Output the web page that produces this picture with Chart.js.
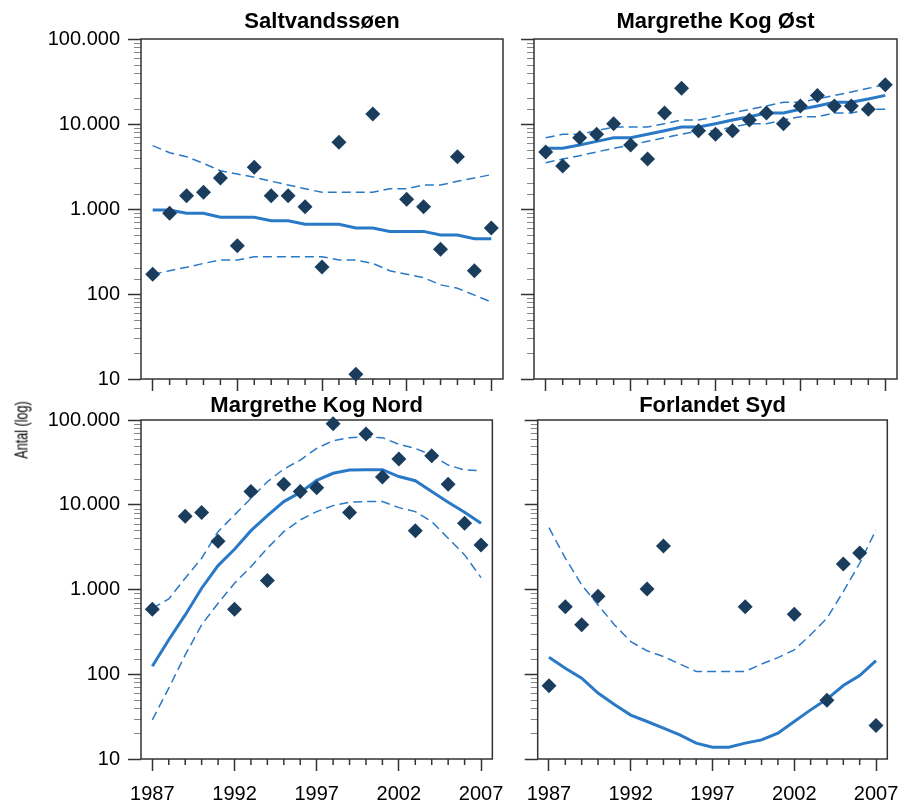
<!DOCTYPE html>
<html>
<head>
<meta charset="utf-8">
<script src="https://cdn.jsdelivr.net/npm/chart.js@4"></script>
<style>
  body { margin: 0; background: #fff; }
  #wrap { position: relative; width: 910px; height: 802px; overflow: hidden; }
  canvas { position: absolute; }
  #ytitle {
    position: absolute; left: 22px; top: 430px;
    transform: translate(-50%, -50%) rotate(-90deg) scaleX(0.7);
    font: 18px 'Liberation Sans', Arial, sans-serif; white-space: nowrap; color: #000;
  }
</style>
</head>
<body>
<div id="wrap">
  <canvas id="c1" width="515" height="400" style="left:0;top:0"></canvas>
  <canvas id="c2" width="395" height="400" style="left:515px;top:0"></canvas>
  <canvas id="c3" width="515" height="422" style="left:0;top:380px"></canvas>
  <canvas id="c4" width="395" height="422" style="left:515px;top:380px"></canvas>
  <div id="ytitle">Antal (log)</div>
</div>
<script>
const YEARS = [1987, 1988, 1989, 1990, 1991, 1992, 1993, 1994, 1995, 1996, 1997,
               1998, 1999, 2000, 2001, 2002, 2003, 2004, 2005, 2006, 2007];
const X_LABEL_YEARS = [1987, 1992, 1997, 2002, 2007];
const Y_TICKS = [10, 100, 1000, 10000, 100000];

// Saltvandssøen
const SALT_OBS = [171, 890, 1430, 1570, 2320, 370, 3090, 1430, 1430, 1060, 208,
                  6100, 11.4, 13100, null, 1300, 1060, 336, 4120, 188, 597];
const SALT_FIT = [973, 973, 890, 890, 798, 798, 798, 729, 729, 661, 661,
                  661, 597, 597, 545, 545, 545, 494, 494, 448, 448];
const SALT_HI = [5560, 4600, 4120, 3440, 2820, 2580, 2360, 2120, 1915, 1733, 1570,
                 1570, 1570, 1570, 1733, 1733, 1915, 1915, 2120, 2316, 2535];
const SALT_LO = [171, 188, 206, 229, 251, 251, 275, 275, 275, 275, 275,
                 251, 251, 229, 188, 171, 156, 128, 117, 97, 80.5];

// Margrethe Kog Øst
const OST_OBS = [4690, 3210, 6900, 7560, 10090, 5660, 3870, 13460, 26300, 8340, 7560,
                 8340, 11140, 13460, 10090, 16300, 21700, 16300, 16300, 14900, 29000];
const OST_FIT = [5180, 5180, 5660, 6250, 6900, 6900, 7560, 8340, 9220, 9220, 10090,
                 11140, 12200, 13460, 13460, 14900, 16300, 18000, 18000, 19700, 21700];
const OST_HI = [6900, 7560, 7560, 8340, 9200, 9200, 9200, 10090, 11140, 11140, 12200,
                13460, 14900, 16300, 18000, 18000, 19700, 21700, 23800, 26300, 29000];
const OST_LO = [3510, 3870, 4240, 4690, 5180, 5660, 6250, 6900, 7560, 8340, 8340,
                9200, 10090, 10090, 11140, 12200, 12200, 13460, 13460, 14900, 14900];

// Margrethe Kog Nord
const NORD_OBS = [586, null, 7310, 8080, 3710, 586, 14300, 1273, 17500, 14300, 15900,
                  90500, 8080, 68400, 21300, 34700, 4950, 37900, 17500, 6050, 3360];
const NORD_FIT = [124, 255, 501, 1035, 1915, 2990, 4950, 7450, 10900, 14000, 19400,
                  23500, 25700, 25900, 25900, 21500, 19200, 14300, 10700, 8170, 6050];
const NORD_HI = [600, 774, 1360, 2340, 4820, 7590, 11900, 18700, 26400, 33700, 46300,
                 57000, 61900, 63100, 61900, 51600, 46300, 38600, 29400, 25700, 25300];
const NORD_LO = [29, 68.5, 169, 383, 689, 1185, 1860, 3070, 4820, 6620, 8300,
                 9770, 10700, 10900, 10900, 9250, 8300, 6320, 4030, 2560, 1380];

// Forlandet Syd (lower band is below the axis)
const FORL_OBS = [73, 624, 383, 834, null, null, 1016, 3270, null, null, null,
                  null, 624, null, null, 512, null, 49.5, 2000, 2700, 24.8];
const FORL_FIT = [159, 118, 90, 60, 44, 33, 27.7, 23.1, 19.3, 15.4, 13.8,
                  13.8, 15.4, 16.8, 20.2, 27.7, 38, 51, 73.6, 96.6, 145];
const FORL_HI = [5370, 2340, 1133, 658, 383, 243, 189, 162, 132, 108, 108,
                 108, 108, 132, 157, 194, 292, 459, 944, 2040, 5050];

const DIAMOND = '#1b3d5d';
const LINE = '#2a79c6';
const FRAME = '#333333';
const FONT = "'Liberation Sans', Arial, Helvetica, sans-serif";

Chart.defaults.font.family = FONT;
Chart.defaults.color = '#000';

function fmt(v) {
    return String(v).replace(/\B(?=(\d{3})+(?!\d))/g, '.');
}

function isDecade(v) {
    const l = Math.log10(v);
    return Math.abs(l - Math.round(l)) < 1e-9;
}

function isMajorYear(v) {
    return X_LABEL_YEARS.includes(v);
}

function pts(arr) {
    return YEARS.map((x, i) => ({ x: x, y: arr[i] }));
}

// full box round the plot + the short minor ticks
const framePlugin = {
    id: 'frame',
    beforeDatasetsDraw(chart) {
        const ctx = chart.ctx;
        const a = chart.chartArea;
        ctx.save();
        ctx.strokeStyle = '#888';
        ctx.lineWidth = 1;
        chart.scales.y.ticks.forEach(t => {
            if (isDecade(t.value)) return;
            const py = Math.round(chart.scales.y.getPixelForValue(t.value)) + 0.5;
            ctx.beginPath();
            ctx.moveTo(a.left - 7, py);
            ctx.lineTo(a.left, py);
            ctx.stroke();
        });
        ctx.strokeStyle = FRAME;
        ctx.lineWidth = 1.5;
        chart.scales.x.ticks.forEach(t => {
            if (isMajorYear(t.value)) return;
            const px = chart.scales.x.getPixelForValue(t.value);
            ctx.beginPath();
            ctx.moveTo(px, a.bottom);
            ctx.lineTo(px, a.bottom + 6);
            ctx.stroke();
        });
        ctx.strokeRect(a.left, a.top, a.right - a.left, a.bottom - a.top);
        ctx.restore();
    }
};

function makeChart(id, title, obs, fit, hi, lo, isLeft, isBottom) {
    const datasets = [
        {
            data: pts(obs), showLine: false, pointStyle: 'rectRot', pointRadius: 7.5,
            pointBackgroundColor: DIAMOND, pointBorderColor: DIAMOND, pointBorderWidth: 0,
            clip: false
        },
        { data: pts(fit), borderColor: LINE, borderWidth: 3, pointRadius: 0 },
        { data: pts(hi), borderColor: LINE, borderWidth: 1.5, borderDash: [9, 5], pointRadius: 0 }
    ];
    if (lo) {
        datasets.push({ data: pts(lo), borderColor: LINE, borderWidth: 1.5, borderDash: [9, 5], pointRadius: 0 });
    }

    return new Chart(document.getElementById(id), {
        type: 'line',
        data: { datasets: datasets },
        options: {
            responsive: false,
            animation: false,
            events: [],
            layout: { padding: { left: 0, right: isLeft ? 12 : 13, top: 0, bottom: 0 } },
            plugins: {
                legend: { display: false },
                tooltip: { enabled: false },
                title: {
                    display: true, text: title, fullSize: false, color: '#000',
                    font: { size: 22, weight: 'bold', lineHeight: '25px' },
                    padding: isBottom ? { top: 13, bottom: 2 } : { top: 9, bottom: 5 }
                }
            },
            scales: {
                x: {
                    type: 'linear', min: 1986.31, max: 2007.69,
                    afterBuildTicks: s => { s.ticks = YEARS.map(v => ({ value: v })); },
                    afterFit: s => { s.height = isBottom ? 43 : 21; },
                    border: { display: false },
                    grid: {
                        drawOnChartArea: false, tickLength: 12, tickWidth: 1.5,
                        tickColor: c => isMajorYear(c.tick.value) ? FRAME : 'transparent'
                    },
                    ticks: {
                        display: isBottom, autoSkip: false, maxRotation: 0, padding: 11,
                        font: { size: 20 }, color: '#000',
                        callback: v => isMajorYear(v) ? String(v) : ''
                    }
                },
                y: {
                    type: 'logarithmic', min: 10, max: 100000,
                    afterFit: s => { s.width = isLeft ? 141 : 19; },
                    border: { display: false },
                    grid: {
                        drawOnChartArea: false, tickLength: 13, tickWidth: 1.5,
                        tickColor: c => isDecade(c.tick.value) ? FRAME : 'transparent'
                    },
                    ticks: {
                        display: isLeft, autoSkip: false, padding: 8,
                        font: { size: 20 }, color: '#000',
                        callback: v => Y_TICKS.includes(v) ? fmt(v) : ''
                    }
                }
            }
        },
        plugins: [framePlugin]
    });
}

makeChart('c1', 'Saltvandssøen', SALT_OBS, SALT_FIT, SALT_HI, SALT_LO, true, false);
makeChart('c2', 'Margrethe Kog Øst', OST_OBS, OST_FIT, OST_HI, OST_LO, false, false);
makeChart('c3', 'Margrethe Kog Nord', NORD_OBS, NORD_FIT, NORD_HI, NORD_LO, true, true);
makeChart('c4', 'Forlandet Syd', FORL_OBS, FORL_FIT, FORL_HI, null, false, true);
</script>
</body>
</html>
